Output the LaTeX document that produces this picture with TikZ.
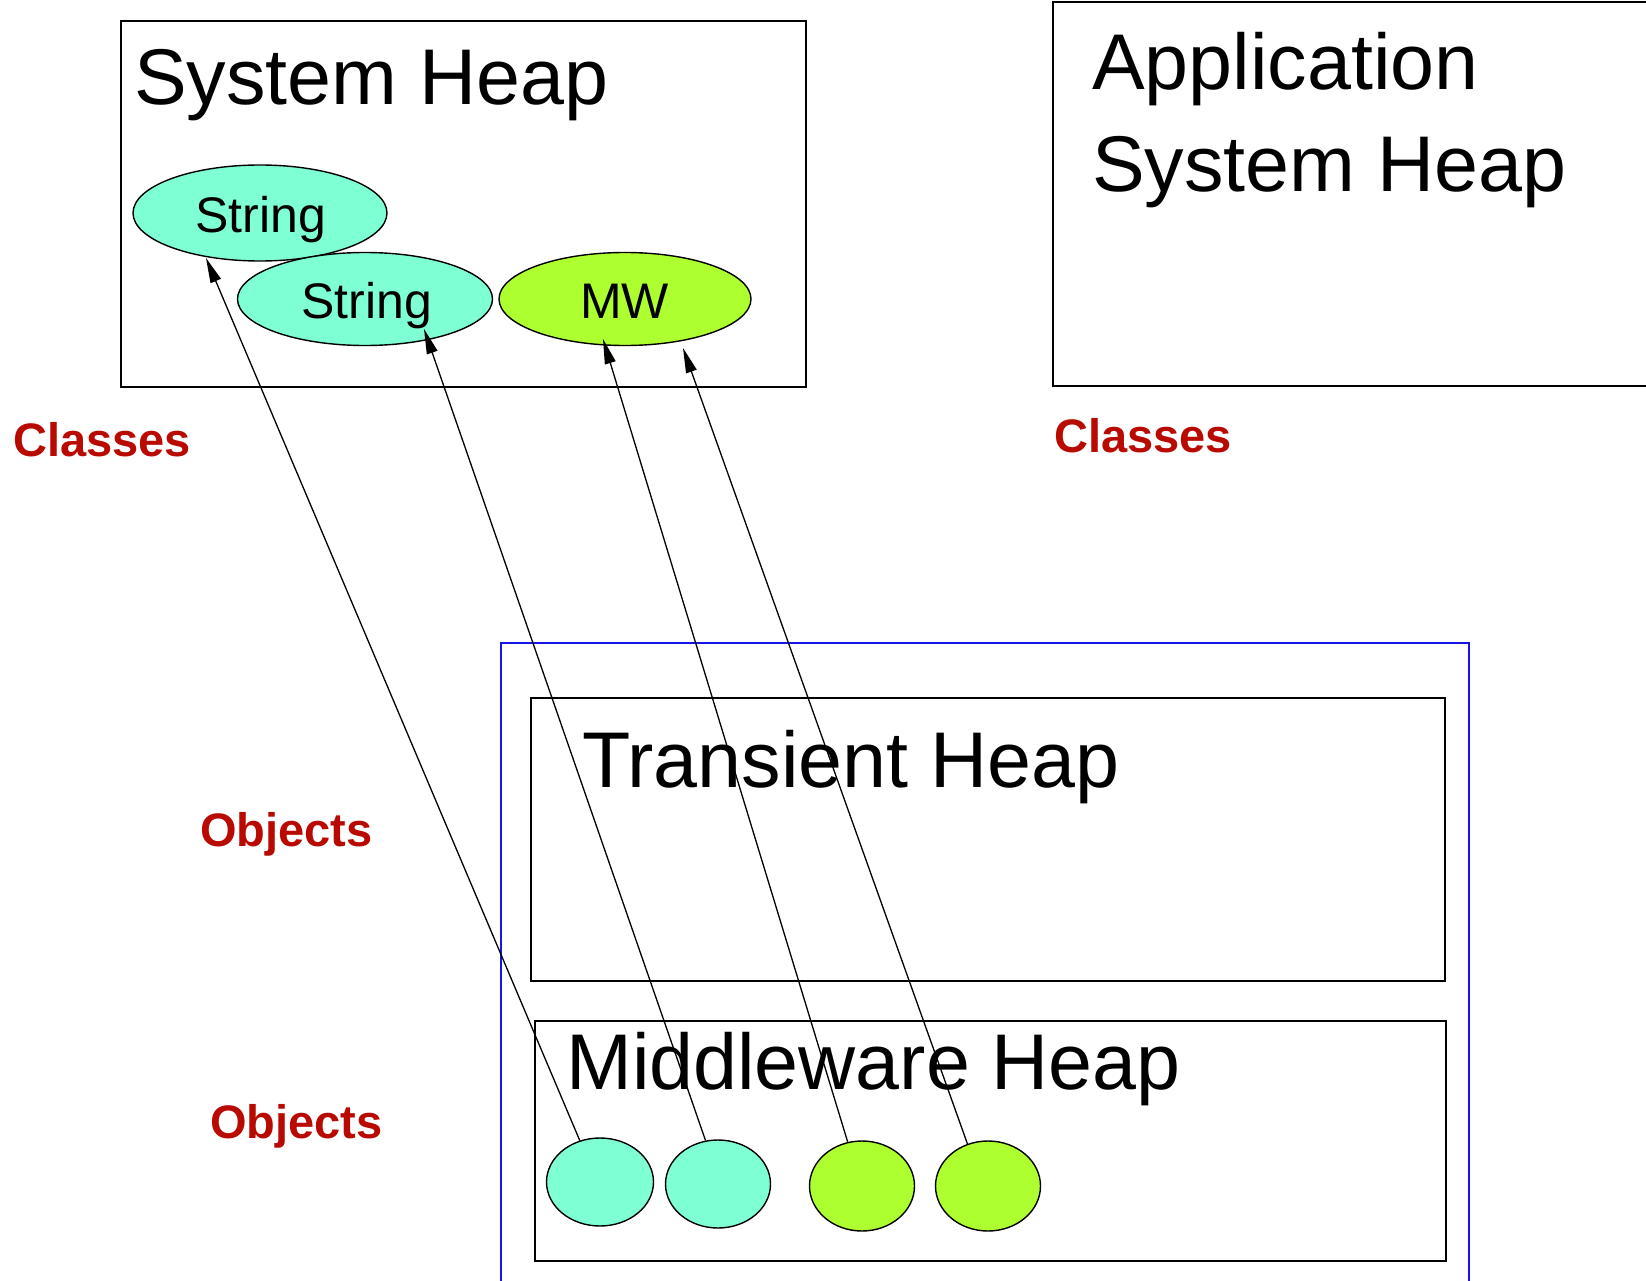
\documentclass[tikz,border=0pt]{standalone}
\usepackage{fontspec}
\setmainfont{Liberation Sans}
\usetikzlibrary{arrows.meta,shapes.geometric}
\definecolor{labelred}{RGB}{185,10,2}
\definecolor{aqua}{RGB}{127,255,212}
\definecolor{lime}{RGB}{173,255,47}
\definecolor{frameblue}{RGB}{20,20,230}
\tikzset{
  heapbox/.style={draw=black,line width=1.8pt,rectangle,inner sep=0pt},
  heaptitle/.style={anchor=base west,inner sep=0pt,font=\fontsize{79}{102}\selectfont},
  classoval/.style={draw=black,line width=1.4pt,ellipse,inner sep=0pt},
  classname/.style={anchor=base west,inner sep=0pt,font=\fontsize{50}{60}\selectfont},
  objoval/.style={draw=black,line width=1.4pt,ellipse,inner sep=0pt},
  redlabel/.style={anchor=base west,inner sep=0pt,text=labelred,font=\fontsize{47}{56}\selectfont\bfseries},
  ref/.style={line width=1.3pt,-{Triangle[length=25pt,width=11pt]}}
}
\begin{document}
\begin{tikzpicture}[x=1pt,y=-1pt]
\useasboundingbox (0,0) rectangle (1646,1281);
\clip (0,0) rectangle (1646,1281);

% system heap of the middleware
\node[heapbox,minimum width=685pt,minimum height=366pt] (sysheap) at (463.5,204) {};
\node[heaptitle] (systitle) at (134,105) {System Heap};

% application system heap (runs off the right edge)
\node[heapbox,minimum width=647pt,minimum height=384pt] (appheap) at (1376.5,194) {};
\node[heaptitle] (apptitle1) at (1092,90) {Application};
\node[heaptitle] (apptitle2) at (1092,192) {System Heap};

% class ovals
\node[classoval,fill=aqua,minimum width=254pt,minimum height=96pt] (s1) at (260,213) {};
\node[classoval,fill=aqua,minimum width=255pt,minimum height=93pt] (s2) at (365,299) {};
\node[classoval,fill=lime,minimum width=252pt,minimum height=93pt] (mw) at (625,299) {};
\node[classname] (s1t) at (195,233) {String};
\node[classname] (s2t) at (301,318) {String};
\node[classname] (mwt) at (580,318) {MW};

% red side labels
\node[redlabel] (cls1) at (13,456) {Classes};
\node[redlabel] (cls2) at (1054,452) {Classes};
\node[redlabel] (obj1) at (200,846) {Objects};
\node[redlabel] (obj2) at (210,1138) {Objects};

% application area
\node[draw=frameblue,line width=1.3pt,rectangle,inner sep=0pt,minimum width=968pt,minimum height=657pt] (apparea) at (985,971.5) {};
\node[heapbox,minimum width=914pt,minimum height=283pt] (transient) at (988,839.5) {};
\node[heaptitle] (transtitle) at (582,787) {Transient Heap};
\node[heapbox,minimum width=911pt,minimum height=240pt] (mwheap) at (990.5,1141) {};
\node[heaptitle] (mwtitle) at (566,1089) {Middleware Heap};

% object ovals
\node[objoval,fill=aqua,minimum width=107pt,minimum height=88pt] (c1) at (600,1182) {};
\node[objoval,fill=aqua,minimum width=105pt,minimum height=88pt] (c2) at (718,1184) {};
\node[objoval,fill=lime,minimum width=105pt,minimum height=90pt] (g1) at (862,1186) {};
\node[objoval,fill=lime,minimum width=105pt,minimum height=90pt] (g2) at (988,1186) {};

% where the class references land
\coordinate (s1tip) at ([shift={(-54,45)}]s1.center);
\coordinate (s2tip) at ([shift={(59,30)}]s2.center);
\coordinate (mwtipa) at ([shift={(-22,40)}]mw.center);
\coordinate (mwtipb) at ([shift={(58,49)}]mw.center);

% class references
\draw[ref] (c1.116) -- (s1tip);
\draw[ref] (c2.106) -- (s2tip);
\draw[ref] (g1.108) -- (mwtipa);
\draw[ref] (g2.116) -- (mwtipb);
\end{tikzpicture}
\end{document}
